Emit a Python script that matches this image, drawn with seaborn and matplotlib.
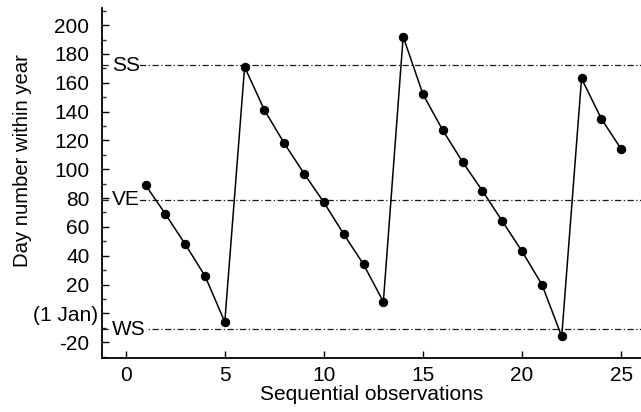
import matplotlib
matplotlib.use("Agg")
import matplotlib.pyplot as plt
import matplotlib.transforms as mtransforms
import seaborn as sns
import pandas as pd
from matplotlib.ticker import MultipleLocator

sns.set_theme(style="white")
plt.rcParams['font.family'] = ['Liberation Sans', 'DejaVu Sans']

obs = list(range(1, 26))
day = [89, 69, 48, 26, -6, 171, 141, 118, 97, 77, 55, 34, 8,
       192, 152, 127, 105, 85, 64, 43, 20, -16, 163, 135, 114]
ref_names = ["SS", "VE", "WS"]
ref_days = [172, 79, -11]
y_ticks = [-20, 0, 20, 40, 60, 80, 100, 120, 140, 160, 180, 200]
y_ticklabels = ["-20", "(1 Jan)", "20", "40", "60", "80", "100", "120", "140", "160", "180", "200"]
x_ticks = [0, 5, 10, 15, 20, 25]

FS = 15

df = pd.DataFrame({"obs": obs, "day": day})

fig = plt.figure(figsize=(6.41, 4.12), dpi=100)
ax = fig.add_axes([0.159, 0.131, 0.841, 0.850])

for name, d in zip(ref_names, ref_days):
    ax.axhline(d, color="#1a1a1a", lw=0.9, ls=(0, (5, 2, 1, 2)), zorder=1)
    ax.annotate(name, xy=(0, d), xycoords=("axes fraction", "data"),
                xytext=(7, 0), textcoords="offset points",
                ha="left", va="center", fontsize=FS, color="black",
                bbox=dict(boxstyle="square,pad=0.02", fc="white", ec="none"), zorder=2)

sns.lineplot(data=df, x="obs", y="day", ax=ax, color="black", lw=1.1,
             marker="o", markersize=6, markeredgecolor="black", zorder=3)

ax.set_xlim(-1.2, 26.0)
ax.set_ylim(-31, 212)
ax.set_yticks(y_ticks)
ax.set_yticklabels(y_ticklabels)
ax.yaxis.set_minor_locator(MultipleLocator(10))
ax.set_xticks(x_ticks)

ax.tick_params(axis="y", which="major", direction="in", length=5, width=1, left=True, pad=9, labelsize=FS, colors="black")
ax.tick_params(axis="y", which="minor", direction="in", length=3, width=1, left=True)
ax.tick_params(axis="x", which="major", direction="in", length=5, width=1, bottom=True, pad=6, labelsize=FS, colors="black")

# the "(1 Jan)" label sits a little further right in the reference
for lab in ax.get_yticklabels():
    if lab.get_text() == "(1 Jan)":
        lab.set_transform(lab.get_transform() + mtransforms.ScaledTranslation(9 / 100, 0, fig.dpi_scale_trans))

for s in ["top", "right"]:
    ax.spines[s].set_visible(False)
for s in ["left", "bottom"]:
    ax.spines[s].set_color("black")
    ax.spines[s].set_linewidth(1.3)

ax.set_xlabel("Sequential observations", fontsize=FS, labelpad=0, color="black")
ax.set_ylabel("Day number within year", fontsize=14.6, color="black", va="center")
ax.yaxis.set_label_coords(-0.147, 0.563)

fig.savefig("out.png", dpi=100)
